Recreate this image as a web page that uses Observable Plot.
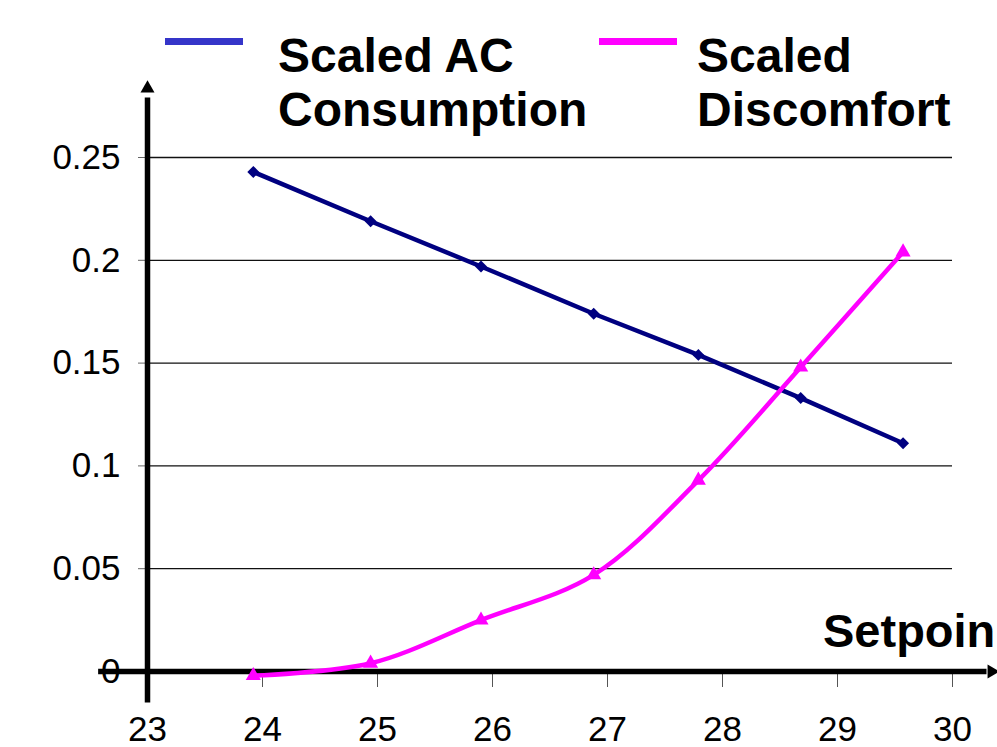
<!DOCTYPE html>
<html><head><meta charset="utf-8">
<script src="https://cdn.jsdelivr.net/npm/d3@7"></script>
<script src="https://cdn.jsdelivr.net/npm/@observablehq/plot@0.6"></script>
<style>
html,body{margin:0;padding:0;background:#fff;overflow:hidden}
#wrap{position:relative;width:997px;height:747px;overflow:hidden}
.lg{position:absolute;font:bold 48px "Liberation Sans",Arial,sans-serif;line-height:54px;white-space:pre;color:#000}
.sw{position:absolute;height:7px}
</style></head><body><div id="wrap"></div>
<script>
// ---- data ----
const setpoint = [23.92, 24.94, 25.9, 26.88, 27.79, 28.68, 29.57];
const acConsumption = [0.243, 0.219, 0.197, 0.174, 0.154, 0.133, 0.111];
const discomfort = [-0.002, 0.004, 0.025, 0.047, 0.093, 0.148, 0.204];
const xTicks = [23, 24, 25, 26, 27, 28, 29, 30];
const yTicks = [0, 0.05, 0.1, 0.15, 0.2, 0.25];
const seriesLabels = ["Scaled AC\nConsumption", "Scaled\nDiscomfort"];
const seriesColors = ["#000080", "#ff00ff"];
const legendColors = ["#3535c9", "#ff00ff"];
const xLabel = "Setpoin";

const FONT = '"Liberation Sans", Arial, sans-serif';
const acData = setpoint.map((x, i) => ({x, y: acConsumption[i]}));
const discData = setpoint.map((x, i) => ({x, y: discomfort[i]}));

// axis line extents (beyond the frame, like the original arrows)
const xAxisLine = [{y: 0, x1: 22.575, x2: 30.3}];
const yAxisLine = [{x: 23, y1: -0.0153, y2: 0.279}];
const xArrow = [{x: 30.34, y: 0}];
const yArrow = [{x: 23, y: 0.2836}];

const rightTriangle = {
  draw(ctx, size) {
    const y = Math.sqrt(size / (3 * Math.sqrt(3)));
    ctx.moveTo(2 * y, 0);
    ctx.lineTo(-y, -Math.sqrt(3) * y);
    ctx.lineTo(-y, Math.sqrt(3) * y);
    ctx.closePath();
  }
};

const chart = Plot.plot({
  width: 997,
  height: 747,
  marginLeft: 147,
  marginRight: 45,
  marginTop: 157,
  marginBottom: 76,
  x: {domain: [23, 30]},
  y: {domain: [0, 0.25]},
  style: {fontFamily: FONT, fontSize: "35px", background: "white", color: "black"},
  marks: [
    Plot.gridY(yTicks.filter(d => d > 0), {stroke: "#111", strokeOpacity: 1, strokeWidth: 1.3}),
    Plot.axisY(yTicks, {tickSize: 9, tickPadding: 18, stroke: "#666", fontSize: 35,
      tickFormat: d => d === 0 ? "0" : String(d)}),
    Plot.axisX(xTicks, {tickSize: 16, tickPadding: 29, stroke: "#555", fontSize: 35, tickFormat: d => String(d), label: null}),
    Plot.ruleY(xAxisLine, {y: "y", x1: "x1", x2: "x2", stroke: "black", strokeWidth: 5.5}),
    Plot.ruleX(yAxisLine, {x: "x", y1: "y1", y2: "y2", stroke: "black", strokeWidth: 5.5}),
    Plot.dot(xArrow, {x: "x", y: "y", symbol: rightTriangle, r: 5.2, fill: "black", stroke: null}),
    Plot.dot(yArrow, {x: "x", y: "y", symbol: "triangle", r: 5.2, fill: "black", stroke: null}),
    Plot.line(acData, {x: "x", y: "y", stroke: seriesColors[0], strokeWidth: 4.5}),
    Plot.dot(acData, {x: "x", y: "y", symbol: "diamond2", r: 5.4, fill: seriesColors[0], stroke: null}),
    Plot.line(discData, {x: "x", y: "y", stroke: seriesColors[1], strokeWidth: 4.5, curve: "catmull-rom"}),
    Plot.dot(discData, {x: "x", y: "y", symbol: "triangle", r: 5.6, fill: seriesColors[1], stroke: null})
  ]
});

const wrap = document.getElementById("wrap");
wrap.appendChild(chart);

// legend (overlaid above the plot area)
const legendPos = [{sw: 165, tx: 278}, {sw: 599, tx: 697}];
seriesLabels.forEach((lab, i) => {
  const s = document.createElement("div");
  s.className = "sw";
  s.style.left = legendPos[i].sw + "px";
  s.style.top = "38px";
  s.style.width = "78px";
  s.style.background = legendColors[i];
  wrap.appendChild(s);
  const t = document.createElement("div");
  t.className = "lg";
  t.style.left = legendPos[i].tx + "px";
  t.style.top = "29px";
  t.textContent = lab;
  wrap.appendChild(t);
});

// x axis title
const xt = document.createElement("div");
xt.className = "lg";
xt.style.fontSize = "47px";
xt.style.left = "823px";
xt.style.top = "604px";
xt.textContent = xLabel;
wrap.appendChild(xt);
</script>
</body></html>
